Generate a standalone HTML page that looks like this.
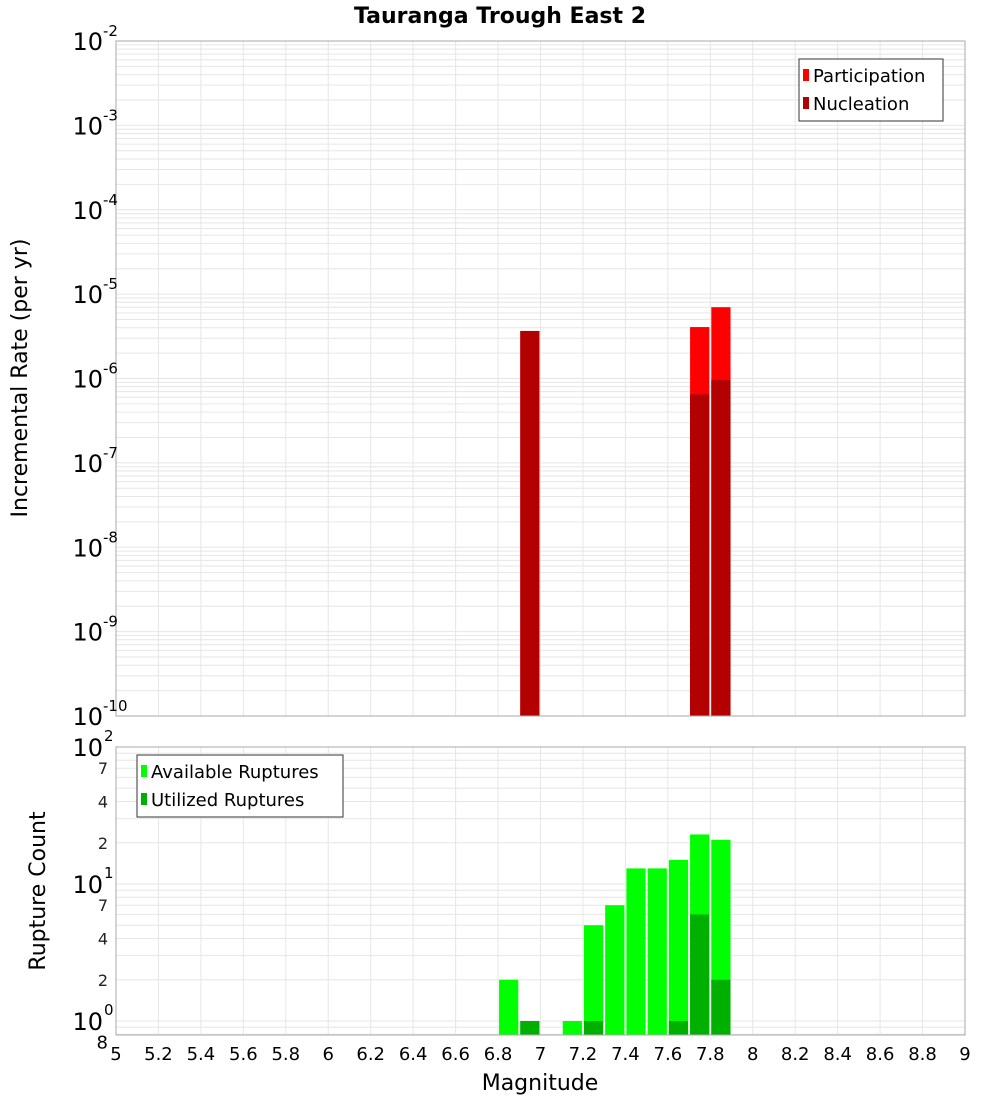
<!DOCTYPE html>
<html><head><meta charset="utf-8"><style>
body{margin:0;background:#fff;font-family:"Liberation Sans","DejaVu Sans",sans-serif}
svg text{font-family:"DejaVu Sans","Liberation Sans",sans-serif}
</style></head><body>
<svg id="c" width="1000" height="1100" xmlns="http://www.w3.org/2000/svg">
<text x="500" y="23" text-anchor="middle" font-size="22" font-weight="bold">Tauranga Trough East 2</text>
<g id="topg"></g>
<g id="botg"></g>
<text transform="translate(27,378) rotate(-90)" text-anchor="middle" font-size="22">Incremental Rate (per yr)</text>
<text transform="translate(45,891) rotate(-90)" text-anchor="middle" font-size="22">Rupture Count</text>
<text x="540" y="1090" text-anchor="middle" font-size="22">Magnitude</text>
</svg>
<script>
const rateMags=[6.95,7.75,7.85];
const participation=[3.66e-6,4.07e-6,7.0e-6];
const nucleation=[3.66e-6,6.5e-7,9.6e-7];
const countMags=[6.85,6.95,7.15,7.25,7.35,7.45,7.55,7.65,7.75,7.85];
const available=[2,1,1,5,7,13,13,15,23,21];
const utilMags=[6.95,7.25,7.65,7.75,7.85];
const utilized=[1,1,1,6,2];
const xTicks=["5","5.2","5.4","5.6","5.8","6","6.2","6.4","6.6","6.8","7","7.2","7.4","7.6","7.8","8","8.2","8.4","8.6","8.8","9"];

const NS="http://www.w3.org/2000/svg";
const X0=116,X1=965;
const x=m=>X0+(m-5)/4*(X1-X0);
const T0=41,T1=716; const yt=v=>T0+(-2-Math.log10(v))*(T1-T0)/8;
const B0=747,B1=1035,BD=137; const yb=v=>B0+(2-Math.log10(v))*BD;
function el(p,t,a){const e=document.createElementNS(NS,t);for(const k in a)e.setAttribute(k,a[k]);p.appendChild(e);return e;}
const topG=document.getElementById('topg'),botG=document.getElementById('botg');

function grid(g,ya,yb2,yf,dmin,dmax){
  for(let i=0;i<=20;i++){const l=el(g,'line',{x1:x(5+i*0.2),x2:x(5+i*0.2),y1:ya,y2:yb2,stroke:'#e6e6e6'});
    
    }
  for(let d=dmin;d<dmax;d++)for(let k=1;k<10;k++){const y=yf(k*Math.pow(10,d));if(y<ya||y>yb2)continue;
    const l=el(g,'line',{x1:X0,x2:X1,y1:y,y2:y,stroke:'#e6e6e6'});
    
    }
}
grid(topG,T0,T1,yt,-10,-2);
grid(botG,B0,B1,yb,-1,2);

const bw=(x(5.1)-x(5))-2;
rateMags.forEach((m,i)=>{
  const r=el(topG,'rect',{x:x(m-0.05)+1,y:yt(participation[i]),width:bw,height:T1-yt(participation[i]),fill:'#ff0000'});
  
  
  const n=el(topG,'rect',{x:x(m-0.05)+1,y:yt(nucleation[i]),width:bw,height:T1-yt(nucleation[i]),fill:'#b30000'});
  
  
});
countMags.forEach((m,i)=>{
  const r=el(botG,'rect',{x:x(m-0.05)+1,y:yb(available[i]),width:bw,height:B1-yb(available[i]),fill:'#00ff00'});
  
  
});
utilMags.forEach((m,i)=>{
  const r=el(botG,'rect',{x:x(m-0.05)+1,y:yb(utilized[i]),width:bw,height:B1-yb(utilized[i]),fill:'#00b000'});
  
  
});
el(topG,'rect',{x:X0,y:T0,width:X1-X0,height:T1-T0,fill:'none',stroke:'#aaa'});
el(botG,'rect',{x:X0,y:B0,width:X1-X0,height:B1-B0,fill:'none',stroke:'#aaa'});

for(let e=-2;e>=-10;e--){const y=yt(Math.pow(10,e));
  const t=el(topG,'text',{x:103,y:y+9,'text-anchor':'end','font-size':24});t.textContent='10';
  
  
  const s=el(topG,'text',{x:103,y:y-5,'font-size':15});s.textContent=String(e);
  
  }
[2,1,0].forEach(e=>{const y=yb(Math.pow(10,e));
  const t=el(botG,'text',{x:103,y:y+9,'text-anchor':'end','font-size':24});t.textContent='10';
  
  
  const s=el(botG,'text',{x:104,y:y-6,'font-size':15});s.textContent=String(e);
  
  });
[7,4,2].forEach(k=>[1,0].forEach(d=>{const y=yb(k*Math.pow(10,d));
  const t=el(botG,'text',{x:108,y:y+6,'text-anchor':'end','font-size':16,fill:'#222'});t.textContent=String(k);
  
  }));
{const t=el(botG,'text',{x:108,y:yb(0.8)+6+8,'text-anchor':'end','font-size':18});t.textContent='8';
 
 }
xTicks.forEach(s=>{const t=el(botG,'text',{x:x(parseFloat(s)),y:1060,'text-anchor':'middle','font-size':18});t.textContent=s;
  
  });

function legend(g,lx,ly,w,items){
  const b=el(g,'rect',{x:lx,y:ly,width:w,height:items.length*28+6,fill:'#fff',stroke:'#333'});
  
  
  items.forEach((it,i)=>{const r=el(g,'rect',{x:lx+4,y:ly+10+i*28,width:6,height:12,fill:it[1]});
    
    
    const t=el(g,'text',{x:lx+14,y:ly+23+i*28,'font-size':18});t.textContent=it[0];
    
    });
}
legend(topG,799,59,144,[['Participation','#ff0000'],['Nucleation','#b30000']]);
legend(botG,137,755,206,[['Available Ruptures','#00ff00'],['Utilized Ruptures','#00b000']]);
</script>
</body></html>
